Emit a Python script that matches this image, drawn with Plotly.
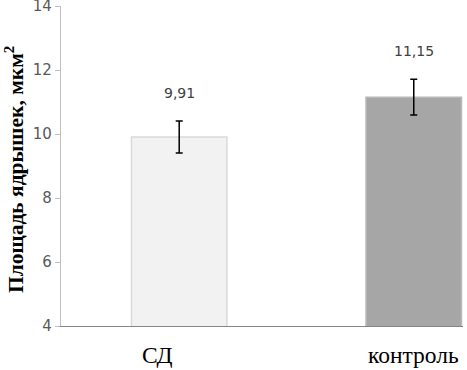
import plotly.graph_objects as go

categories = ["СД", "контроль"]
values = [9.91, 11.15]
errors = [0.50, 0.56]
value_labels = ["9,91", "11,15"]
tick_vals = [4, 6, 8, 10, 12, 14]
fill_colors = ["#f2f2f2", "#a6a6a6"]
line_colors = ["#d9d9d9", "#b8b8b8"]

x_idx = list(range(len(categories)))

fig = go.Figure()
fig.add_trace(go.Bar(
    x=x_idx, y=values, width=0.407,
    marker=dict(color=fill_colors, line=dict(color=line_colors, width=1.5)),
    error_y=dict(type="data", array=errors, visible=True, color="black",
                 thickness=1.5, width=3.5),
    showlegend=False, hoverinfo="skip",
))

for i, (v, e, lab) in enumerate(zip(values, errors, value_labels)):
    fig.add_annotation(x=i, y=v + e, text=lab, showarrow=False, yshift=28,
                       font=dict(family="DejaVu Sans", size=14, color="#404040"))

label_offsets = [-0.093, 0.0]
for i, (c, off) in enumerate(zip(categories, label_offsets)):
    fig.add_annotation(x=i + off, xref="x", y=-0.091, yref="paper", text=c,
                       showarrow=False, yanchor="middle",
                       font=dict(family="Liberation Serif", size=23.5, color="black"))

fig.add_annotation(x=-47 / 402, xref="paper", y=0.4875, yref="paper",
                   text="<b>Площадь ядрышек, мкм<sup>2</sup></b>", textangle=-90,
                   showarrow=False, xanchor="center", yanchor="middle",
                   font=dict(family="Liberation Serif", size=21.5, color="black"))

fig.update_layout(
    width=467, height=370,
    margin=dict(l=61, r=4, t=6, b=44, autoexpand=False),
    paper_bgcolor="white", plot_bgcolor="white",
    xaxis=dict(range=[-0.504, 1.21], showticklabels=False, ticks="",
               showline=True, linecolor="#868686", linewidth=1.2,
               showgrid=False, zeroline=False, fixedrange=True,
               automargin=False),
    yaxis=dict(range=[4, 14], tickvals=tick_vals, ticks="outside", ticklen=5,
               tickcolor="#bfbfbf", showline=True, linecolor="#bfbfbf",
               linewidth=1.2, showgrid=False, zeroline=False, automargin=False,
               ticklabeloverflow="allow",
               tickfont=dict(family="DejaVu Sans", size=15, color="#595959")),
)

fig.write_html("out.html", config={"displayModeBar": False},
               post_script="document.body.style.margin='0';document.body.style.overflow='hidden';")
